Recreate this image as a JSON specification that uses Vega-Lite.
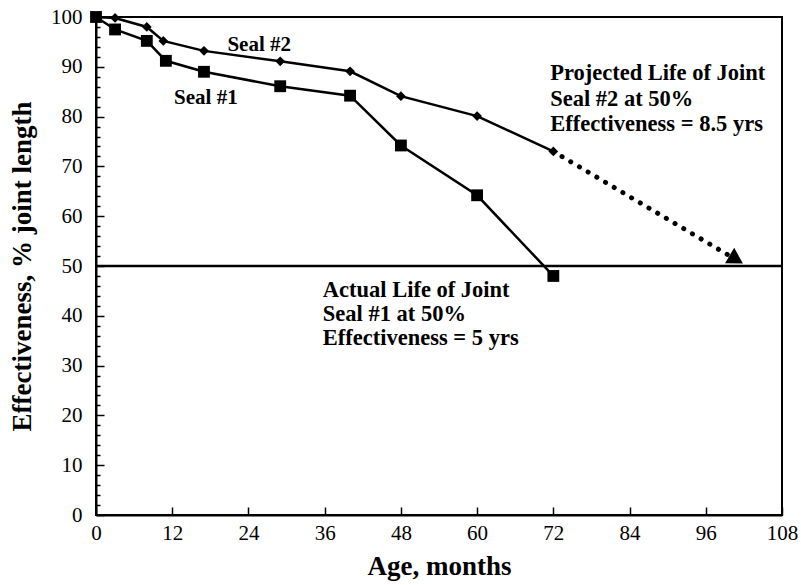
{
  "$schema": "https://vega.github.io/schema/vega-lite/v6.json",
  "width": 686,
  "height": 498,
  "autosize": "none",
  "padding": {"left": 96, "top": 17, "right": 19, "bottom": 70},
  "background": "white",
  "config": {
    "view": {"stroke": "black", "strokeWidth": 2},
    "axis": {
      "grid": false,
      "domainColor": "black",
      "domainWidth": 2,
      "tickColor": "black",
      "tickWidth": 1.5,
      "labelColor": "black",
      "titleColor": "black",
      "labelFont": "Liberation Serif",
      "titleFont": "Liberation Serif",
      "labelFontSize": 21,
      "titleFontSize": 27,
      "titleFontWeight": "bold"
    }
  },
  "datasets": {
    "seal1": [
      {"age": 0, "eff": 100},
      {"age": 3, "eff": 97.5},
      {"age": 8, "eff": 95.2},
      {"age": 11, "eff": 91.2},
      {"age": 17, "eff": 89},
      {"age": 29, "eff": 86.1},
      {"age": 40, "eff": 84.2},
      {"age": 48, "eff": 74.2},
      {"age": 60, "eff": 64.2},
      {"age": 72, "eff": 48}
    ],
    "seal2": [
      {"age": 0, "eff": 100},
      {"age": 3, "eff": 99.8},
      {"age": 8, "eff": 98},
      {"age": 10.6, "eff": 95.2},
      {"age": 17, "eff": 93.2},
      {"age": 29, "eff": 91.1},
      {"age": 40, "eff": 89.1},
      {"age": 48, "eff": 84.1},
      {"age": 60, "eff": 80.1},
      {"age": 72, "eff": 73}
    ],
    "proj": [
      {"age": 72, "eff": 73},
      {"age": 99.8, "eff": 52}
    ],
    "head": [
      {"age": 100.8, "eff": 51.3}
    ]
  },
  "layer": [
    {
      "data": {"name": "seal1"},
      "mark": {"type": "line", "color": "black", "strokeWidth": 2.5},
      "encoding": {
        "x": {
          "field": "age", "type": "quantitative",
          "scale": {"domain": [0, 108], "nice": false},
          "axis": {
            "orient": "bottom",
            "title": "Age, months",
            "values": [0, 6, 12, 18, 24, 30, 36, 42, 48, 54, 60, 66, 72, 78, 84, 90, 96, 102, 108],
            "labelExpr": "datum.value % 12 === 0 ? datum.label : ''",
            "tickSize": {"condition": {"test": "datum.value % 12 === 0", "value": -8}, "value": -4},
            "labelPadding": 15,
            "labelOverlap": false,
            "titlePadding": 10,
            "labelFlush": false
          }
        },
        "y": {
          "field": "eff", "type": "quantitative",
          "scale": {"domain": [0, 100], "nice": false},
          "axis": {
            "orient": "left",
            "title": "Effectiveness, % joint length",
            "values": [0, 10, 20, 30, 40, 50, 60, 70, 80, 90, 100],
            "tickSize": -8,
            "labelPadding": 22,
            "labelOverlap": false,
            "labelFlush": false,
            "titlePadding": 14
          }
        }
      }
    },
    {
      "data": {"name": "seal2"},
      "mark": {"type": "line", "color": "black", "strokeWidth": 2.5},
      "encoding": {
        "x": {"field": "age", "type": "quantitative"},
        "y": {"field": "eff", "type": "quantitative", "axis": null}
      }
    },
    {
      "data": {"values": [{"eff": 50}]},
      "mark": {"type": "rule", "color": "black", "strokeWidth": 2.5},
      "encoding": {
        "y": {"field": "eff", "type": "quantitative", "axis": null}
      }
    },
    {
      "data": {"name": "seal1"},
      "mark": {"type": "point", "shape": "square", "filled": true, "color": "black", "size": 140, "opacity": 1},
      "encoding": {
        "x": {"field": "age", "type": "quantitative"},
        "y": {
          "field": "eff", "type": "quantitative",
          "axis": {
            "orient": "left",
            "title": null,
            "labels": false,
            "domain": false,
            "values": [2, 4, 6, 8, 12, 14, 16, 18, 22, 24, 26, 28, 32, 34, 36, 38, 42, 44, 46, 48, 52, 54, 56, 58, 62, 64, 66, 68, 72, 74, 76, 78, 82, 84, 86, 88, 92, 94, 96, 98],
            "tickSize": -4
          }
        }
      }
    },
    {
      "data": {"name": "seal2"},
      "mark": {"type": "point", "shape": "diamond", "filled": true, "color": "black", "size": 95, "opacity": 1},
      "encoding": {
        "x": {"field": "age", "type": "quantitative"},
        "y": {"field": "eff", "type": "quantitative", "axis": null}
      }
    },
    {
      "data": {"name": "proj"},
      "mark": {"type": "line", "color": "black", "strokeWidth": 5, "strokeDash": [0.1, 10], "strokeCap": "round"},
      "encoding": {
        "x": {"field": "age", "type": "quantitative"},
        "y": {"field": "eff", "type": "quantitative", "axis": null}
      }
    },
    {
      "data": {"name": "head"},
      "mark": {"type": "point", "shape": "triangle-right", "filled": true, "color": "black", "size": 320, "angle": 31, "opacity": 1},
      "encoding": {
        "x": {"field": "age", "type": "quantitative"},
        "y": {"field": "eff", "type": "quantitative", "axis": null}
      }
    },
    {
      "data": {"values": [{"label": "Seal #2"}]},
      "mark": {"type": "text", "font": "Liberation Serif", "fontWeight": "bold", "fontSize": 21, "align": "center", "baseline": "middle", "color": "black"},
      "encoding": {
        "x": {"datum": 25.7, "type": "quantitative"},
        "y": {"datum": 94.4, "type": "quantitative", "axis": null},
        "text": {"field": "label"}
      }
    },
    {
      "data": {"values": [{"label": "Seal #1"}]},
      "mark": {"type": "text", "font": "Liberation Serif", "fontWeight": "bold", "fontSize": 21, "align": "center", "baseline": "middle", "color": "black"},
      "encoding": {
        "x": {"datum": 17.3, "type": "quantitative"},
        "y": {"datum": 83.7, "type": "quantitative", "axis": null},
        "text": {"field": "label"}
      }
    },
    {
      "data": {"values": [{"label": ["Projected Life of Joint", "Seal #2 at 50%", "Effectiveness = 8.5 yrs"]}]},
      "mark": {"type": "text", "font": "Liberation Serif", "fontWeight": "bold", "fontSize": 22.5, "align": "left", "baseline": "alphabetic", "lineHeight": 25.5, "color": "black"},
      "encoding": {
        "x": {"datum": 71.5, "type": "quantitative"},
        "y": {"datum": 87.3, "type": "quantitative", "axis": null},
        "text": {"field": "label"}
      }
    },
    {
      "data": {"values": [{"label": ["Actual Life of Joint", "Seal #1 at 50%", "Effectiveness = 5 yrs"]}]},
      "mark": {"type": "text", "font": "Liberation Serif", "fontWeight": "bold", "fontSize": 22.5, "align": "left", "baseline": "alphabetic", "lineHeight": 24, "color": "black"},
      "encoding": {
        "x": {"datum": 35.7, "type": "quantitative"},
        "y": {"datum": 43.8, "type": "quantitative", "axis": null},
        "text": {"field": "label"}
      }
    }
  ],
  "resolve": {"axis": {"y": "independent"}}
}
